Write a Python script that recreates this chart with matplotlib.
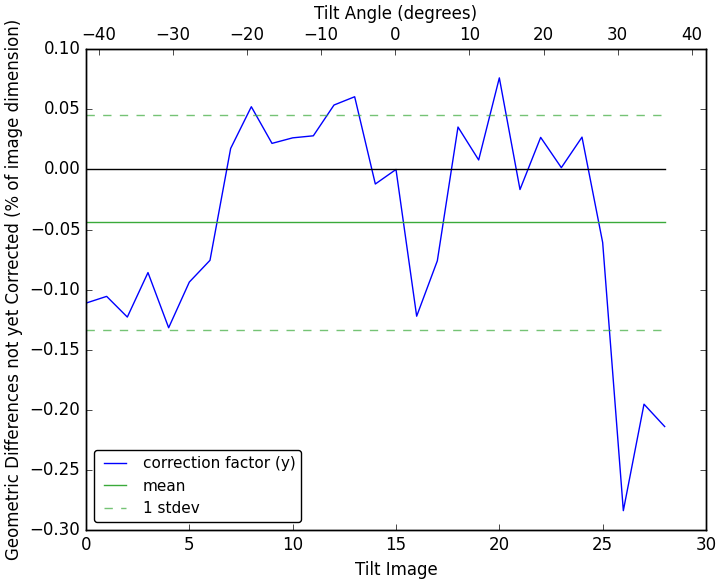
import matplotlib
matplotlib.use('Agg')
import matplotlib.pyplot as plt
from matplotlib.ticker import MultipleLocator
import numpy as np

plt.style.use('classic')

# correction factor per tilt image
tilt_image = np.arange(29)
correction_y = [-0.1112, -0.1056, -0.1228, -0.0858, -0.1317, -0.0937, -0.0756,
                0.0175, 0.0522, 0.0217, 0.0263, 0.0280, 0.0536, 0.0605,
                -0.0121, 0.0000, -0.1221, -0.0760, 0.0353, 0.0079, 0.0762,
                -0.0167, 0.0267, 0.0015, 0.0269, -0.0608, -0.2839, -0.1953,
                -0.2139]
angle_limits = (-41.7, 41.9)

mean_y = np.mean(correction_y)
std_y = np.std(correction_y)

fig = plt.figure(figsize=(7.25, 5.79), dpi=100)
ax = fig.add_axes([0.1186, 0.0846, 0.8552, 0.8303])

ax.plot(tilt_image, correction_y, 'b-', label='correction factor (y)')
ax.plot(tilt_image, np.zeros(len(tilt_image)), 'k-')
ax.plot(tilt_image, np.full(len(tilt_image), mean_y), '-', color='#3aaa3a',
        label='mean')
ax.plot(tilt_image, np.full(len(tilt_image), mean_y + std_y), '--',
        color='#3aaa3a', alpha=0.7, label='1 stdev')
ax.plot(tilt_image, np.full(len(tilt_image), mean_y - std_y), '--',
        color='#3aaa3a', alpha=0.7)

ax.set_xlim(0, 30)
ax.set_ylim(-0.30, 0.10)
ax.set_xlabel('Tilt Image')
ax.set_ylabel('Geometric Differences not yet Corrected (% of image dimension)')
ax.legend(loc='lower left', fancybox=True, fontsize=11)

ax2 = ax.twiny()
ax2.set_xlim(*angle_limits)
ax2.xaxis.set_major_locator(MultipleLocator(10))
ax2.set_xlabel('Tilt Angle (degrees)')

fig.savefig('out.png', dpi=100)
